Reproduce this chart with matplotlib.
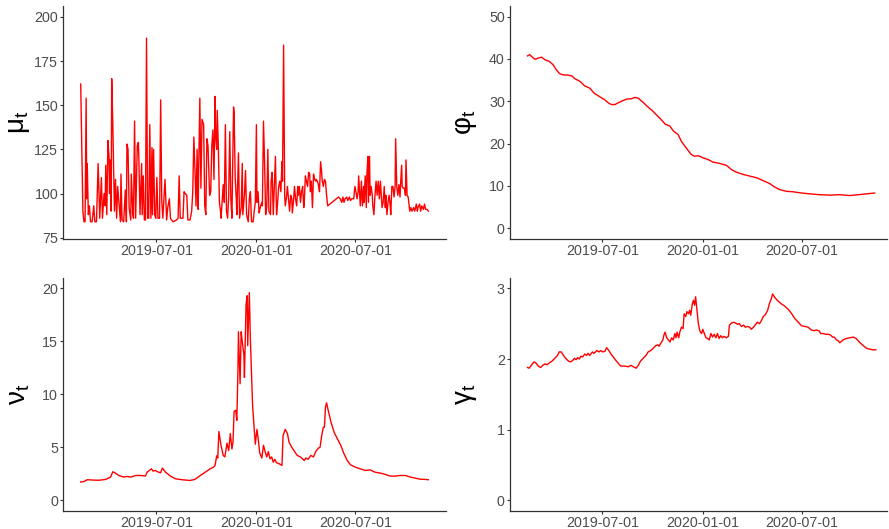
import numpy as np
import pandas as pd
import matplotlib
matplotlib.use('Agg')
import matplotlib.pyplot as plt
import matplotlib.dates as mdates

plt.rcParams['font.family'] = ['Liberation Sans', 'DejaVu Sans']
plt.rcParams['mathtext.fontset'] = 'dejavusans'

start = pd.Timestamp('2019-02-12')

# mu_t (day offset from start, value)
mu_day = [0, 4, 6, 8, 10, 11, 12, 14, 16, 18, 21, 24, 26, 29, 32, 35, 38, 40, 43, 45, 46, 48, 50, 52, 53, 54, 56, 57, 59,
          62, 64, 66, 68, 71, 73, 74, 76, 79, 82, 84, 85, 87, 89, 92, 93, 96, 97, 99, 101, 104, 106, 107, 109, 112,
          113, 115, 117, 119, 121, 123, 125, 127, 129, 131, 132, 134, 136, 138, 140, 142, 145, 147, 149, 151,
          155, 158, 160, 163, 165, 167, 170, 176, 179, 181, 183, 185, 188, 190, 192, 195, 197, 201, 204, 206, 208,
          210, 212, 214, 216, 217, 219, 221, 223, 225, 226, 228, 230, 232, 234, 237, 239, 241, 243, 245, 247, 248,
          250, 251, 253, 255, 257, 258, 262, 264, 266, 268, 270, 272, 274, 276, 278, 281, 282, 284, 286, 287, 290,
          292, 295, 297, 298, 301, 303, 305, 308, 310, 312, 314, 317,
          319, 321, 323, 324, 326, 328, 330, 333, 334, 336, 338, 340, 342, 344, 346, 349, 350, 352, 354, 356, 358,
          360, 362, 364, 366, 368, 370, 371, 373, 375, 376, 378, 380, 382, 384, 386, 388, 389, 391, 393, 395, 397,
          399, 400, 402, 404, 406, 408, 410, 411, 413, 415, 417, 419, 421, 422, 424, 426, 428, 430, 432, 433, 435,
          437, 439, 441, 443, 444, 446, 448, 450, 452, 454, 462, 470,
          474, 477, 480, 482, 484, 486, 489, 491, 494, 496, 498, 502, 504, 506, 508, 510, 511, 513, 514, 516, 518,
          520, 521, 523, 525, 526, 528, 529, 531, 532, 534, 536, 537, 539, 541, 543, 545, 547, 549, 551, 553, 554,
          556, 558, 560, 561, 563, 565, 567, 569, 570, 572, 574, 576, 578, 579, 581, 583, 585, 587, 588, 590, 591,
          593, 595, 597, 598, 600, 602, 604, 605, 607, 609, 612, 614, 617, 619, 620, 623, 625, 627, 630, 632, 634,
          637, 639]
mu_val = [162, 90, 84, 84, 154, 97, 117, 88, 93, 84, 84, 93, 84, 84, 117, 86, 109, 86, 100, 93, 116, 88, 130, 121, 100,
          119, 90, 165, 139, 90, 108, 86, 104, 92, 84, 111, 85, 84, 102, 84, 128, 125, 92, 85, 111, 88, 86, 141, 86,
          127, 129, 119, 88, 117, 88, 110, 85, 85, 188, 86, 86, 139, 86, 126, 88, 125, 88, 86, 109, 86, 86, 153, 96,
          86,
          108, 85, 92, 97, 86, 85, 84, 85, 86, 110, 86, 86, 86, 101, 100, 99, 85, 85, 90, 101, 132, 114, 93, 125, 91,
          115, 154, 103, 142, 140, 139, 93, 88, 131, 127, 99, 101, 127, 136, 108, 155, 133, 125, 147, 127, 95, 90,
          86, 105, 95, 139, 90, 86, 98, 135, 97, 86, 149, 146, 109, 97, 88, 123, 86, 92, 117, 88, 99, 113, 88, 84,
          97, 101, 84, 84,
          90, 95, 139, 95, 101, 89, 92, 95, 93, 141, 118, 88, 92, 125, 90, 88, 107, 112, 88, 104, 121, 88, 95, 104,
          107, 101, 118, 107, 184, 99, 93, 97, 104, 97, 90, 99, 97, 89, 95, 104, 97, 93, 104, 99, 104, 95, 101, 104,
          92, 95, 110, 107, 104, 112, 111, 101, 107, 92, 111, 108, 107, 108, 107, 105, 101, 118, 112, 107, 104, 108,
          107, 99, 93, 95, 97,
          98, 97, 95, 98, 95, 97, 98, 96, 98, 96, 97, 97, 104, 101, 97, 101, 110, 99, 93, 107, 93, 104, 95, 110, 92,
          110, 121, 95, 121, 99, 104, 99, 93, 88, 99, 107, 99, 107, 97, 107, 97, 92, 95, 104, 92, 99, 88, 95, 99, 93,
          88, 104, 104, 98, 104, 131, 104, 99, 105, 98, 105, 116, 104, 103, 103, 99, 119, 99, 98, 93, 90, 92, 90,
          92, 90, 94, 90, 92, 94, 90, 93, 91, 94, 91, 91, 90]

# phi_t
phi_day = [2, 6, 11, 16, 22, 28, 34, 42, 49, 55, 61, 68, 74, 83, 89, 98, 107, 116, 124, 135, 144, 150, 156, 162, 168,
           176, 184, 193, 199, 205, 214, 223, 232, 241, 248, 254, 263, 269, 278, 284, 293, 302, 308, 315, 324, 333,
           342, 354, 367, 376, 385, 397, 409, 422, 434, 446, 455, 464, 476, 488, 504, 519, 537, 556, 574, 592, 608,
           623, 638]
phi_val = [40.7, 41.0, 40.4, 39.9, 40.2, 40.4, 39.8, 39.4, 38.6, 37.4, 36.5, 36.2, 36.2, 36.0, 35.3, 34.7, 33.6, 33.1,
           31.9, 31.0, 30.3, 29.6, 29.2, 29.2, 29.6, 30.1, 30.5, 30.6, 30.9, 30.7, 29.7, 28.6, 27.6, 26.4, 25.5, 24.6,
           24.1, 23.0, 22.1, 20.5, 18.9, 17.4, 17.0, 17.1, 16.6, 16.2, 15.6, 15.3, 14.8, 13.8, 13.2, 12.7, 12.3, 11.9,
           11.2, 10.5, 9.7, 9.1, 8.7, 8.6, 8.3, 8.1, 7.9, 7.8, 7.9, 7.7, 7.9, 8.1, 8.3]

# nu_t
nu_day = [0, 6, 12, 21, 34, 46, 55, 59, 63, 70, 79, 85, 92, 101, 110, 119, 122, 126, 130, 133, 137, 143, 147, 150, 156,
          165, 174, 186, 201, 210, 220, 229, 238, 244, 247, 250, 252, 254, 258, 262, 265, 269, 272, 275, 278, 280,
          282, 285, 287, 289, 290, 293, 295, 297, 300, 301, 304, 306, 307, 310, 312, 316, 319, 321, 324, 327, 329,
          333, 336, 339, 342, 345, 348, 351, 354, 357, 360, 365, 370, 372, 376, 380, 383, 388, 392, 398, 404, 411,
          414, 418, 423, 428, 432, 437, 440, 443, 446, 448, 450, 452, 455, 460, 466, 472, 478, 484, 490, 496, 505,
          514, 523, 532, 541, 551, 560, 569, 578, 587, 597, 606, 615, 624, 633, 639]
nu_val = [1.73, 1.78, 1.95, 1.92, 1.90, 1.98, 2.2, 2.7, 2.6, 2.35, 2.2, 2.26, 2.2, 2.35, 2.35, 2.3, 2.65, 2.82, 2.98,
          2.76, 2.82, 2.66, 2.6, 3.05, 2.66, 2.29, 2.04, 1.95, 1.88, 1.98, 2.35, 2.66, 2.98, 3.13, 3.3, 4.2, 4.0, 6.5,
          5.18, 4.24, 4.1, 5.4, 4.7, 6.3, 4.85, 5.5, 8.4, 8.5, 7.55, 12.1, 15.9, 11.0, 15.9, 15.0, 13.7, 11.6, 18.5,
          19.3, 14.6, 19.6, 15.0, 8.96, 6.7, 5.3, 6.7, 5.5, 4.5, 4.0, 5.2, 4.6, 4.1, 4.6, 3.92, 4.1, 3.6, 3.87, 3.55,
          3.45, 3.3, 6.1, 6.7, 6.3, 5.5, 5.0, 4.7, 4.24, 4.1, 3.76, 4.0, 3.87, 4.24, 4.1, 4.6, 4.93, 5.0, 6.1, 6.9,
          6.9, 8.8, 9.2, 8.5, 7.4, 6.4, 5.8, 5.2, 4.4, 3.76, 3.36, 3.13, 2.98, 2.82, 2.88, 2.66, 2.57, 2.45, 2.29,
          2.29, 2.35, 2.35, 2.2, 2.1, 2.0, 1.98, 1.95]

# gamma_t
gamma_day = [2, 5, 9, 14, 18, 22, 26, 30, 34, 38, 43, 47, 52, 57, 60, 64, 68, 72, 77, 81, 85, 88, 91, 94, 97, 100, 103,
             107, 110, 113, 116, 121, 124, 129, 133, 136, 140, 144, 147, 151, 155, 160, 167, 173, 180, 187, 191, 196,
             201, 205, 209, 214, 219, 223, 228, 232, 237, 241, 243, 246, 250, 252, 254, 257, 260, 263, 266, 269, 272,
             274, 276, 279, 281, 284, 287, 289, 292, 294, 297, 299, 301, 304, 306, 308, 310,
             315, 318, 321, 323, 326, 329, 332, 335, 338, 341, 344, 347, 350, 353, 356, 359, 362, 366, 370, 372, 376,
             380, 383, 387, 390, 394, 398, 401, 405, 409, 412, 416, 420, 423, 427, 431, 434, 438, 442, 445, 449, 451,
             455, 461, 467, 473, 480, 486, 492, 498, 504, 510, 516, 522, 527, 531, 536, 539, 544, 548, 553, 557, 561,
             564, 568, 571, 574, 580, 586, 592, 599, 604, 611, 617, 623, 629, 635, 640]
gamma_val = [1.88, 1.87, 1.91, 1.96, 1.94, 1.90, 1.88, 1.91, 1.93, 1.92, 1.95, 1.97, 2.01, 2.05, 2.1, 2.1, 2.05, 2.01,
             1.97, 1.96, 1.98, 2.01, 1.99, 2.02, 2.00, 2.04, 2.03, 2.07, 2.05, 2.08, 2.05, 2.1, 2.08, 2.12, 2.1, 2.12,
             2.1, 2.11, 2.16, 2.12, 2.07, 2.02, 1.95, 1.9, 1.9, 1.89, 1.91, 1.89, 1.87, 1.91, 1.97, 2.01, 2.05, 2.1,
             2.12, 2.15, 2.19, 2.2, 2.18, 2.22, 2.27, 2.34, 2.38, 2.3, 2.27, 2.24, 2.3, 2.27, 2.36, 2.3, 2.38, 2.3,
             2.38, 2.45, 2.43, 2.64, 2.6, 2.67, 2.64, 2.69, 2.62, 2.78, 2.83, 2.76, 2.88,
             2.5, 2.39, 2.36, 2.42, 2.36, 2.3, 2.29, 2.27, 2.36, 2.31, 2.35, 2.3, 2.36, 2.29, 2.33, 2.3, 2.32, 2.3,
             2.32, 2.48, 2.51, 2.52, 2.51, 2.49, 2.5, 2.46, 2.48, 2.45, 2.46, 2.45, 2.42, 2.45, 2.49, 2.52, 2.5, 2.55,
             2.6, 2.63, 2.69, 2.78, 2.86, 2.92, 2.87, 2.82, 2.78, 2.75, 2.7, 2.64, 2.57, 2.52, 2.47, 2.46, 2.45, 2.41,
             2.4, 2.41, 2.4, 2.36, 2.36, 2.35, 2.35, 2.34, 2.31, 2.31, 2.27, 2.26, 2.23, 2.27, 2.29, 2.3, 2.31, 2.29,
             2.23, 2.19, 2.15, 2.14, 2.13, 2.13]

xticks = ['2019-07-01', '2020-01-01', '2020-07-01']


def to_dates(days):
    return start + pd.to_timedelta(days, unit='D')


W, H = 889, 529
fig = plt.figure(figsize=(W / 100, H / 100), dpi=100)


def make_ax(left, top, width, height):
    return fig.add_axes([left / W, 1 - (top + height) / H, width / W, height / H])


# (axes, days, values, label, ylim, yticks, xlim in days)
panels = [
    (make_ax(63.3, 6, 382.4, 232.7), mu_day, mu_val, r'$\mathregular{\mu_t}$', (74.4, 206.2),
     [75, 100, 125, 150, 175, 200], (-32, 671)),
    (make_ax(510, 6, 376.7, 232.7), phi_day, phi_val, r'$\mathregular{\varphi_t}$', (-2.5, 52.5),
     [0, 10, 20, 30, 40, 50], (-30, 660)),
    (make_ax(63.3, 277.7, 382.4, 233.3), nu_day, nu_val, r'$\mathregular{\nu_t}$', (-1, 21),
     [0, 5, 10, 15, 20], (-32, 671)),
    (make_ax(510, 277.7, 376.7, 233.3), gamma_day, gamma_val, r'$\mathregular{\gamma_t}$', (-0.15, 3.15),
     [0, 1, 2, 3], (-30, 660)),
]

for ax, d, v, lab, ylim, yt, xl in panels:
    ax.plot(to_dates(d), v, color='red', lw=1.0)
    ax.set_xlim(start + pd.Timedelta(days=xl[0]), start + pd.Timedelta(days=xl[1]))
    ax.set_ylim(*ylim)
    ax.set_yticks(yt)
    ax.set_xticks(pd.to_datetime(xticks))
    ax.xaxis.set_major_formatter(mdates.DateFormatter('%Y-%m-%d'))
    for s in ['top', 'right']:
        ax.spines[s].set_visible(False)
    for s in ['left', 'bottom']:
        ax.spines[s].set_color('#333333')
        ax.spines[s].set_linewidth(0.9)
    ax.tick_params(axis='both', length=2.2, width=0.8, color='#333333',
                   labelcolor='#4D4D4D', labelsize=10.3, pad=1.5)
    ax.set_ylabel(lab, fontsize=20, rotation=90, va='center', ha='center')
    ax.yaxis.set_label_coords(-44 / (ax.get_position().width * W), 0.5)

fig.savefig('out.png', dpi=100)
